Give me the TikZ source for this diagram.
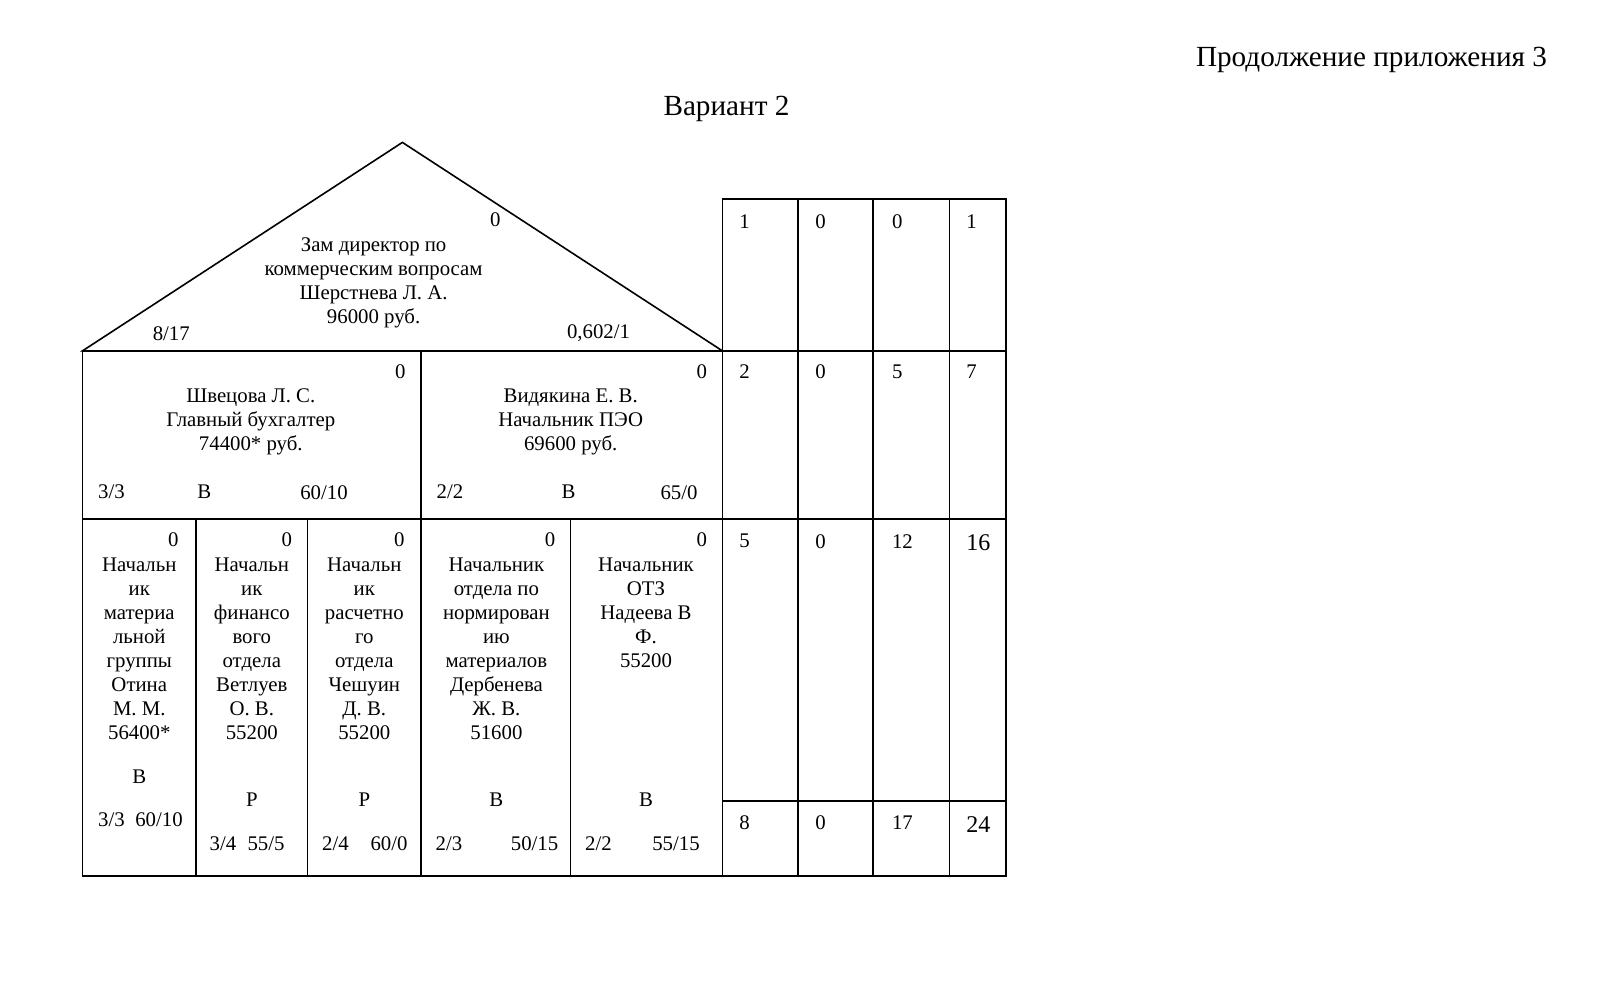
\documentclass[tikz,border=0pt]{standalone}
\usepackage{fontspec}
\setmainfont{Liberation Serif}
\newcommand\bodyfs{\fontsize{10.4pt}{12pt}\selectfont}
\newcommand\headfs{\fontsize{14.6pt}{17pt}\selectfont}
\begin{document}
\begin{tikzpicture}[x=0.5pt,y=-0.5pt,
  frame/.style={line width=0.8pt, line join=miter},
  txt/.style={font=\bodyfs, inner sep=0pt, align=center},
  lbl/.style={font=\bodyfs, inner sep=0pt},
  tnum/.style={font=\bodyfs, inner sep=0pt, anchor=west},
  head/.style={font=\headfs, inner sep=0pt}]
\useasboundingbox (0,0) rectangle (1618,1006);
\fill[white] (0,0) rectangle (1618,1006);

% headings
\node[head] (cont) at (1371.5,59.8) {Продолжение приложения 3};
\node[head] (var) at (726.5,109.4) {Вариант 2};

% house outline
\coordinate (A) at (82.6,350.8);
\coordinate (P) at (402.4,142.4);
\coordinate (B) at (722.3,350.8);
\draw[frame] (A) -- (P) -- (B) -- cycle;
\draw[frame] (82.6,350.8) rectangle (722.3,876);
\draw[frame] (82.6,519) -- (722.3,519);
\draw[frame] (421,350.8) -- (421,876);
\foreach \x in {196,307.5,570.6} \draw[frame] (\x,519) -- (\x,876);

% right table
\draw[frame] (722.3,199.2) rectangle (1006.2,876);
\foreach \x in {797.7,873,949.3} \draw[frame] (\x,199.2) -- (\x,876);
\foreach \y in {350.8,519,800.8} \draw[frame] (722.3,\y) -- (1006.2,\y);

% triangle
\node[lbl] (t0) at (495.4,219.8) {0};
\node[txt] (tmain) at (373.6,282.8) {Зам директор по\\коммерческим вопросам\\Шерстнева Л. А.\\96000 руб.};
\node[lbl] (tl) at (171.3,333.3) {8/17};
\node[lbl] (tr) at (598.5,333.3) {0,602/1};

% middle row
\node[lbl] (m10) at (400.4,371.5) {0};
\node[txt] (m1) at (250.8,421.5) {Швецова Л. С.\\Главный бухгалтер\\74400* руб.};
\node[lbl] (m1a) at (111.5,492.2) {3/3};
\node[lbl] (m1b) at (204.3,492.2) {В};
\node[lbl] (m1c) at (324,492.2) {60/10};

\node[lbl] (m20) at (701.8,371.5) {0};
\node[txt] (m2) at (570.7,421.5) {Видякина Е. В.\\Начальник ПЭО\\69600 руб.};
\node[lbl] (m2a) at (450,492.2) {2/2};
\node[lbl] (m2b) at (568.6,492.2) {В};
\node[lbl] (m2c) at (679,492.2) {65/0};

% bottom row
\node[lbl] (b10) at (173.4,539.7) {0};
\node[lbl] (b20) at (286.9,539.7) {0};
\node[lbl] (b30) at (399.4,539.7) {0};
\node[lbl] (b40) at (550,539.7) {0};
\node[lbl] (b50) at (701.8,539.7) {0};

\node[txt] (b1) at (139.3,649) {Начальн\\ик\\материа\\льной\\группы\\Отина\\М. М.\\56400*};
\node[txt] (b2) at (251.8,649) {Начальн\\ик\\финансо\\вого\\отдела\\Ветлуев\\О. В.\\55200};
\node[txt] (b3) at (364.3,649) {Начальн\\ик\\расчетно\\го\\отдела\\Чешуин\\Д. В.\\55200};
\node[txt] (b4) at (496.4,649) {Начальник\\отдела по\\нормирован\\ию\\материалов\\Дербенева\\Ж. В.\\51600};
\node[txt] (b5) at (646,613) {Начальник\\ОТЗ\\Надеева В\\Ф.\\55200};

\node[lbl] (b1r) at (139.3,776.5) {В};
\node[lbl] (b1a) at (111.5,819.9) {3/3};
\node[lbl] (b1b) at (159,819.9) {60/10};

\node[lbl] (b2r) at (251.8,799.3) {Р};
\node[lbl] (b2a) at (223,843.5) {3/4};
\node[lbl] (b2b) at (266,843.5) {55/5};

\node[lbl] (b3r) at (364.3,799.3) {Р};
\node[lbl] (b3a) at (335.4,843.5) {2/4};
\node[lbl] (b3b) at (389,843.5) {60/0};

\node[lbl] (b4r) at (496.4,799.3) {В};
\node[lbl] (b4a) at (449,843.5) {2/3};
\node[lbl] (b4b) at (534.6,843.5) {50/15};

\node[lbl] (b5r) at (646,799.3) {В};
\node[lbl] (b5a) at (598.5,843.5) {2/2};
\node[lbl] (b5b) at (676,843.5) {55/15};

% right table numbers
\node[tnum] (r11) at (739,221.3) {1};
\node[tnum] (r12) at (815,221.3) {0};
\node[tnum] (r13) at (891.6,221.3) {0};
\node[tnum] (r14) at (966,221.3) {1};

\node[tnum] (r21) at (739,372) {2};
\node[tnum] (r22) at (815,372) {0};
\node[tnum] (r23) at (891.6,372) {5};
\node[tnum] (r24) at (966,372) {7};

\node[tnum] (r31) at (739,541.2) {5};
\node[tnum] (r32) at (815,541.2) {0};
\node[tnum] (r33) at (891.6,541.2) {12};
\node[tnum,font=\fontsize{12pt}{14pt}\selectfont] (r34) at (966,542.5) {16};

\node[tnum] (r41) at (739,823) {8};
\node[tnum] (r42) at (815,823) {0};
\node[tnum] (r43) at (891.6,823) {17};
\node[tnum,font=\fontsize{12pt}{14pt}\selectfont] (r44) at (966,824.5) {24};
\end{tikzpicture}
\end{document}
